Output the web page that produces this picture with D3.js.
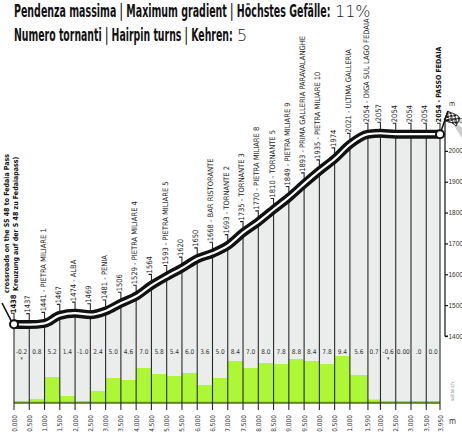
<!DOCTYPE html>
<html>
<head>
<meta charset="utf-8">
<script src="https://cdn.jsdelivr.net/npm/d3@7"></script>
<style>
  body { margin: 0; background: #fff; }
  svg { display: block; font-family: 'Liberation Sans Narrow', 'DejaVu Sans Condensed', 'Roboto Condensed', sans-serif; }
</style>
</head>
<body>
<div id="chart"></div>
<script>

// distances of the survey points (km)
var dist = [0, 0.5, 1, 1.5, 2, 2.5, 3, 3.5, 4, 4.5, 5, 5.5, 6, 6.5, 7, 7.5, 8, 8.5, 9, 9.5,
  10, 10.5, 11, 11.59, 12, 12.5, 13, 13.5, 13.95];
// the labels under the axis, as printed (leading digit cut off after 10 km)
var distLabels = ['0,000', '0,500', '1,000', '1,500', '2,000', '2,500', '3,000', '3,500', '4,000',
  '4,500', '5,000', '5,500', '6,000', '6,500', '7,000', '7,500', '8,000', '8,500', '9,000', '9,500',
  '0,000', '0,500', '1,000', '1,590', '2,000', '2,500', '3,000', '3,500', '3,950'];
// elevation in metres at each point
var elev = [1438, 1437, 1441, 1467, 1474, 1469, 1481, 1506, 1529, 1564, 1593, 1620, 1650, 1668,
  1693, 1735, 1770, 1810, 1849, 1893, 1935, 1974, 2021, 2054, 2057, 2054, 2054, 2054, 2054];
// point names
var names = ['', '', 'PIETRA MILIARE  1', '', 'ALBA', '', 'PENIA', '', 'PIETRA MILIARE 4', '',
  'PIETRA MILIARE 5', '', '', 'BAR RISTORANTE', 'TORNANTE 2', 'TORNANTE 3', 'PIETRA MILIARE 8',
  'TORNANTE 5', 'PIETRA MILIARE 9', 'PRIMA  GALLERIA PARAVALANGHE', 'PIETRA MILIARE 10', '',
  'ULTIMA GALLERIA', 'DIGA SUL LAGO FEDAIA', '', '', '', '', 'PASSO FEDAIA'];
// gradient (%) of each segment, as printed
var gradeLabels = ['-0.2', '0.8', '5.2', '1.4', '-1.0', '2.4', '5.0', '4.6', '7.0', '5.8', '5.4',
  '6.0', '3.6', '5.0', '8.4', '7.0', '8.0', '7.8', '8.8', '8.4', '7.8', '9.4', '5.6', '0.7', '-0.6',
  '0.00', '.0', '0.0'];
var elevTicks = [1400, 1500, 1600, 1700, 1800, 1900, 2000, 2100];

var width = 462, height = 432;
var baseY = 403;

var svg = d3.select('#chart').append('svg')
  .attr('width', width).attr('height', height);

var x = d3.scaleLinear().domain([0, 13.95]).range([14, 440]);
var y = d3.scaleLinear().domain([1400, 2100]).range([336, 120]);
var g = d3.scaleLinear().domain([0, 10]).range([baseY, 353]);

var pts = dist.map(function (d, i) { return {km: d, ele: elev[i], name: names[i], lab: distLabels[i]}; });
var segs = gradeLabels.map(function (s, i) {
  return {x0: dist[i], x1: dist[i + 1], label: s, v: +s};
});

// header: bold part squeezed horizontally to the printed width, value in light type after it
function header(txt, val, yy, w, vx) {
  var t = svg.append('text').attr('font-size', 17).attr('font-weight', 'bold').attr('fill', '#111')
    .text(txt);
  var sx = w / t.node().getComputedTextLength();
  t.attr('transform', 'translate(14,' + yy + ') scale(' + sx + ',1)');
  svg.append('text').attr('x', vx).attr('y', yy).attr('font-size', 16)
    .attr('font-family', 'DejaVu Sans, sans-serif').attr('font-weight', 300).attr('fill', '#222')
    .text(val);
}
header('Pendenza massima | Maximum gradient | Höchstes Gefälle:', '11%', 17, 317, 335);
header('Numero tornanti | Hairpin turns | Kehren:', '5', 41, 219, 237);

// gray area under the profile
svg.append('path').datum(pts)
  .attr('fill', '#ebecec')
  .attr('d', d3.area().x(function (d) { return x(d.km); })
    .y0(baseY).y1(function (d) { return y(d.ele) + 4; }));

// gradient bars
svg.append('g').selectAll('rect').data(segs).join('rect')
  .attr('x', function (d) { return x(d.x0); })
  .attr('width', function (d) { return x(d.x1) - x(d.x0); })
  .attr('y', function (d) { return g(Math.max(d.v, 0)); })
  .attr('height', function (d) { return baseY - g(Math.max(d.v, 0)); })
  .attr('fill', '#aef737');
svg.append('rect').attr('x', x(0)).attr('y', baseY - 2).attr('width', x(13.95) - x(0)).attr('height', 2)
  .attr('fill', '#9fe02c');
svg.append('line').attr('x1', x(0)).attr('x2', x(13.95)).attr('y1', baseY).attr('y2', baseY)
  .attr('stroke', '#4e6a22').attr('stroke-width', 1.6);

// gradient values
svg.append('g').selectAll('text').data(segs).join('text')
  .attr('x', function (d) { return (x(d.x0) + x(d.x1)) / 2; })
  .attr('y', 354).attr('text-anchor', 'middle').attr('font-size', 6.5).attr('fill', '#333')
  .text(function (d) { return d.label; });
svg.append('g').selectAll('text').data(segs.filter(function (d) { return d.v < 0 && d.label !== '-1.0'; })).join('text')
  .attr('x', function (d) { return (x(d.x0) + x(d.x1)) / 2; })
  .attr('y', 360).attr('text-anchor', 'middle').attr('font-size', 5).attr('fill', '#555')
  .text('▾');

// vertical lines at each point
var vl = svg.append('g');
pts.forEach(function (d, i) {
  var px = x(d.km), top = y(d.ele) - 11;
  vl.append('path')
    .attr('d', 'M' + (px - 3) + ',' + top + 'H' + px + 'V410')
    .attr('fill', 'none').attr('stroke', '#2a2a2a').attr('stroke-width', 1.1);
});

// road
var line = d3.line().x(function (d) { return x(d.km); }).y(function (d) { return y(d.ele); })
  .curve(d3.curveMonotoneX);
svg.append('path').datum(pts).attr('d', line)
  .attr('fill', 'none').attr('stroke', '#111').attr('stroke-width', 9);
svg.append('path').datum(pts).attr('d', line)
  .attr('fill', 'none').attr('stroke', '#fff').attr('stroke-width', 2.2);

// start line and end flag
svg.append('line').attr('x1', 2).attr('y1', 303).attr('x2', x(0) - 2).attr('y2', y(1438) - 2)
  .attr('stroke', '#111').attr('stroke-width', 1.6);
var defs = svg.append('defs');
var pat = defs.append('pattern').attr('id', 'chk').attr('width', 5).attr('height', 5)
  .attr('patternUnits', 'userSpaceOnUse').attr('patternTransform', 'rotate(35)');
pat.append('rect').attr('width', 5).attr('height', 5).attr('fill', '#fff');
pat.append('rect').attr('width', 2.5).attr('height', 2.5).attr('fill', '#111');
pat.append('rect').attr('x', 2.5).attr('y', 2.5).attr('width', 2.5).attr('height', 2.5).attr('fill', '#111');
svg.append('path').attr('d', 'M449,118 L462,128 L462,138 Z').attr('fill', '#ccc');
svg.append('path').attr('d', 'M448,111 C452,114 456,113 460,118 L456,126 C452,121 448,123 444,120 Z')
  .attr('fill', 'url(#chk)').attr('stroke', '#111').attr('stroke-width', 0.8);
svg.append('line').attr('x1', x(13.95)).attr('y1', y(2054)).attr('x2', 448).attr('y2', 111)
  .attr('stroke', '#111').attr('stroke-width', 1.5);

svg.selectAll('circle.end').data([pts[0], pts[pts.length - 1]]).join('circle')
  .attr('class', 'end')
  .attr('cx', function (d) { return x(d.km); }).attr('cy', function (d) { return y(d.ele); })
  .attr('r', 4).attr('fill', '#fff').attr('stroke', '#111').attr('stroke-width', 2);

// point labels
svg.append('g').selectAll('text').data(pts.slice(1, pts.length - 1)).join('text')
  .attr('transform', function (d) {
    return 'translate(' + (x(d.km) + 1) + ',' + (y(d.ele) - 12) + ') rotate(-90)';
  })
  .attr('font-size', 7.5).attr('fill', '#222')
  .text(function (d) { return d.ele + (d.name ? ' - ' + d.name : ''); });

var last = pts[pts.length - 1];
svg.append('text')
  .attr('transform', 'translate(' + (x(last.km) + 1) + ',' + (y(last.ele) - 12) + ') rotate(-90)')
  .attr('font-size', 7).attr('font-weight', 'bold').attr('fill', '#111')
  .text(last.ele + ' - ' + last.name);

svg.append('text')
  .attr('transform', 'translate(' + (x(0) + 1.5) + ',' + (y(1438) - 11) + ') rotate(-90)')
  .attr('font-size', 7.5).attr('font-weight', 'bold').attr('fill', '#111').text(elev[0]);
svg.append('text')
  .attr('transform', 'translate(8.5,293) rotate(-90)')
  .attr('font-size', 7).attr('font-weight', 'bold').attr('fill', '#111')
  .text('crossroads on the SS 48 to Fedaia Pass');
svg.append('text')
  .attr('transform', 'translate(17.5,291) rotate(-90)')
  .attr('font-size', 7).attr('font-weight', 'bold').attr('fill', '#111')
  .text('Kreuzung auf der S 48 zu Fedaiapass)');

// distance labels
svg.append('g').selectAll('text').data(pts).join('text')
  .attr('transform', function (d) { return 'translate(' + (x(d.km) + 2.5) + ',415) rotate(-90)'; })
  .attr('text-anchor', 'end').attr('font-size', 6.5).attr('fill', '#333')
  .text(function (d) { return d.lab; });
svg.append('text').attr('x', 449).attr('y', 424).attr('font-size', 8).attr('fill', '#333').text('m');

// right elevation axis
var ax = svg.append('g').attr('transform', 'translate(445,0)')
  .call(d3.axisRight(y).tickValues(elevTicks).tickSize(3).tickFormat(d3.format('d')));
ax.select('.domain').attr('stroke', '#111').attr('stroke-width', 1.2).attr('d', 'M3,120H0V336H3');
ax.selectAll('.tick line').attr('stroke', '#111').attr('stroke-width', 1.2);
ax.selectAll('.tick text').attr('font-size', 6.5).attr('fill', '#333').attr('x', 3.5)
  .attr('font-family', 'inherit');
svg.append('text').attr('x', 449).attr('y', 106).attr('font-size', 7).attr('fill', '#333').text('m');

// small watermark
svg.append('text').attr('transform', 'translate(454,401) rotate(-90)')
  .attr('font-size', 5).attr('fill', '#888').text('salite.ch');

</script>
</body>
</html>
